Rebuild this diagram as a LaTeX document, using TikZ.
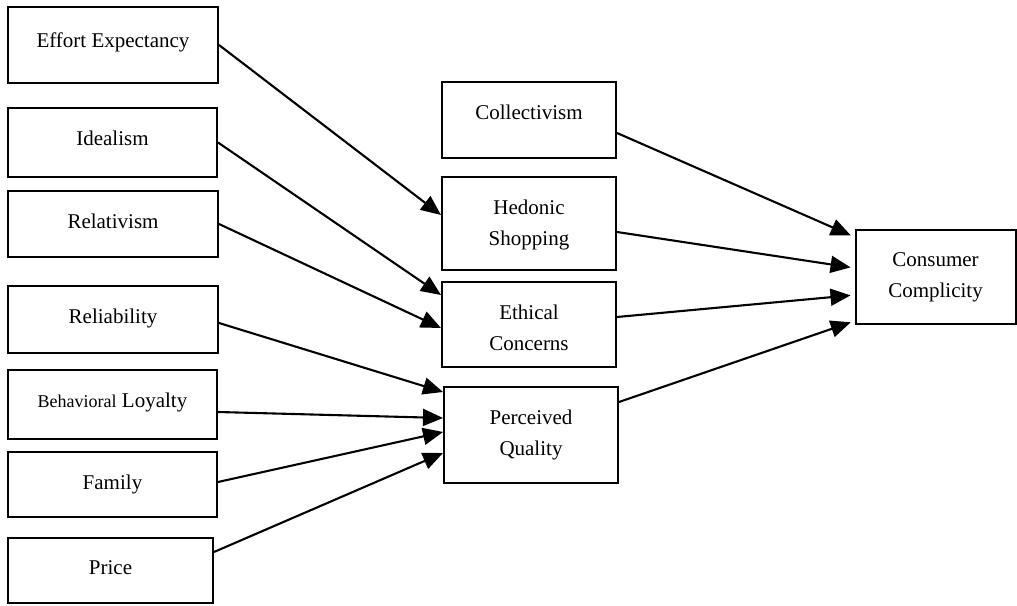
\documentclass[tikz,border=0pt]{standalone}
\usepackage{fontspec}
\setmainfont{Liberation Serif}
\usetikzlibrary{arrows.meta}
\begin{document}
\begin{tikzpicture}[x=1pt,y=1pt,
  box/.style={draw,line width=2pt,inner sep=0pt},
  lab/.style={anchor=north,inner sep=0pt,align=center,font=\fontsize{21}{31}\selectfont},
  arr/.style={line width=2.1pt,-{Triangle[length=20pt,width=17pt]}},
  arrc/.style={arr,shorten >=4pt}]
\useasboundingbox (0,0) rectangle (1017,605);
% left column
\node[box,minimum width=210pt,minimum height=76pt,label={[lab,yshift=-26.5pt]north:Effort Expectancy}] (ee) at (113,560) {};
\node[box,minimum width=209pt,minimum height=69pt,label={[lab,yshift=-23.5pt]north:Idealism}] (id) at (112.5,462.5) {};
\node[box,minimum width=210pt,minimum height=66pt,label={[lab,yshift=-23.5pt]north:Relativism}] (rel) at (113,381) {};
\node[box,minimum width=210pt,minimum height=67pt,label={[lab,yshift=-23.5pt]north:Reliability}] (rlb) at (113,285.5) {};
\node[box,minimum width=209pt,minimum height=69pt,label={[lab,yshift=-23.5pt]north:{{\fontsize{18}{20}\selectfont Behavioral} Loyalty}}] (bl) at (112.5,200.5) {};
\node[box,minimum width=209pt,minimum height=65pt,label={[lab,yshift=-23.5pt]north:Family}] (fam) at (112.5,120.5) {};
\node[box,minimum width=205pt,minimum height=65pt,label={[lab,yshift=-23.5pt]north:Price}] (price) at (110.5,34.5) {};
% middle column
\node[box,minimum width=174pt,minimum height=76pt,label={[lab,yshift=-23.5pt]north:Collectivism}] (col) at (529,485) {};
\node[box,minimum width=174pt,minimum height=93pt,label={[lab,yshift=-23.5pt]north:{Hedonic\\Shopping}}] (hed) at (529,381.5) {};
\node[box,minimum width=174pt,minimum height=85pt,label={[lab,yshift=-23.5pt]north:{Ethical\\Concerns}}] (eth) at (529,280.5) {};
\node[box,minimum width=174pt,minimum height=96pt,label={[lab,yshift=-23.5pt]north:{Perceived\\Quality}}] (pq) at (531,170) {};
% right
\node[box,minimum width=160pt,minimum height=94pt,label={[lab,yshift=-23.5pt]north:{Consumer\\Complicity}}] (cc) at (935.5,328) {};
% arrows left -> middle
\draw[arr] (ee.east) -- ([yshift=8.5pt]hed.west);
\draw[arr] (id.east) -- ([yshift=29.5pt]eth.west);
\draw[arr] (rel.east) -- ([yshift=-3.5pt]eth.west);
\draw[arr] ([yshift=-3.5pt]rlb.east) -- ([yshift=43pt]pq.west);
\draw[arr] ([yshift=-7.5pt]bl.east) -- ([yshift=17pt]pq.west);
\draw[arr] ([yshift=2.5pt]fam.east) -- ([yshift=3pt]pq.west);
\draw[arr] ([yshift=18.5pt]price.east) -- ([yshift=-18pt]pq.west);
% arrows middle -> right
\draw[arrc] ([yshift=-13pt]col.east) -- ([yshift=40pt]cc.west);
\draw[arrc] ([yshift=-8.5pt]hed.east) -- ([yshift=9pt]cc.west);
\draw[arrc] ([yshift=7.5pt]eth.east) -- ([yshift=-18pt]cc.west);
\draw[arrc] ([yshift=33pt]pq.east) -- ([yshift=-44pt]cc.west);
\end{tikzpicture}
\end{document}
